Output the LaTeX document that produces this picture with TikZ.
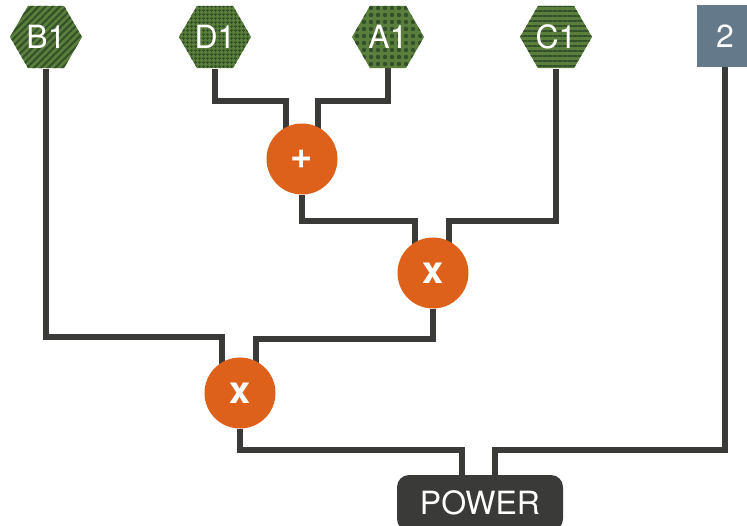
\documentclass[tikz,border=0pt]{standalone}
\usepackage{fontspec}
\setmainfont{TeX Gyre Heros}
\usetikzlibrary{shapes.geometric,patterns.meta,calc,backgrounds}
\definecolor{hexgreen}{HTML}{5A7E3C}
\definecolor{hexdark}{HTML}{34502A}
\definecolor{opcol}{HTML}{DD611B}
\definecolor{wire}{HTML}{3A3A38}
\definecolor{numbox}{HTML}{64798A}
\tikzset{
  hexin/.style={regular polygon, regular polygon sides=6,
    minimum size=72pt, inner sep=0pt, text=white,
    font=\fontsize{32}{32}\selectfont},
  opnode/.style={circle, fill=opcol, minimum size=71pt, inner sep=0pt, text=white,
    font=\bfseries\fontsize{38}{38}\selectfont},
  wireline/.style={draw=wire, line width=6pt, line join=miter},
}
\begin{document}
\begin{tikzpicture}[x=1pt,y=-1pt]
\useasboundingbox (0,0) rectangle (747,526);
\node[hexin, preaction={fill=hexgreen}, pattern={Lines[angle=45,distance=5pt,line width=2pt]}, pattern color=hexdark] (B1) at (46,37) {B1};
\node[hexin, preaction={fill=hexgreen}, pattern={Hatch[distance=4pt,line width=1.3pt]}, pattern color=hexdark] (D1) at (215,37) {D1};
\node[hexin, preaction={fill=hexgreen}, pattern={Dots[distance=7pt,radius=2.2pt]}, pattern color=hexdark] (A1) at (388,37) {A1};
\node[hexin, preaction={fill=hexgreen}, pattern={Lines[angle=0,distance=5pt,line width=2pt]}, pattern color=hexdark] (C1) at (556,37) {C1};
\node[fill=numbox, minimum width=56pt, minimum height=62pt, inner sep=0pt, text=white,
  font=\fontsize{32}{32}\selectfont] (two) at (725,36) {2};
\node[opnode] (plus) at (302,159) {+};
\node[opnode] (m1) at (433,273) {x};
\node[opnode] (m2) at (240,393) {x};
\node[fill=wire, rounded corners=12pt, minimum width=166pt, minimum height=56pt, inner sep=0pt,
  text=white, font=\fontsize{32}{32}\selectfont] (power) at (480,503) {POWER};
\begin{scope}[on background layer]
\draw[wireline] (D1) -- (D1 |- 0,101) -| ([xshift=-16pt]plus.center);
\draw[wireline] (A1) -- (A1 |- 0,101) -| ([xshift=16pt]plus.center);
\draw[wireline] (plus) -- (plus |- 0,221) -| ([xshift=-18pt]m1.center);
\draw[wireline] (C1) -- (C1 |- 0,221) -| ([xshift=16pt]m1.center);
\draw[wireline] (B1) -- (B1 |- 0,337) -| ([xshift=-18pt]m2.center);
\draw[wireline] (m1) -- (m1 |- 0,339) -| ([xshift=16pt]m2.center);
\draw[wireline] (m2) -- (m2 |- 0,450) -| ([xshift=-18pt]power.center);
\draw[wireline] (two) -- (two |- 0,450) -| ([xshift=15pt]power.center);
\end{scope}
\end{tikzpicture}
\end{document}
